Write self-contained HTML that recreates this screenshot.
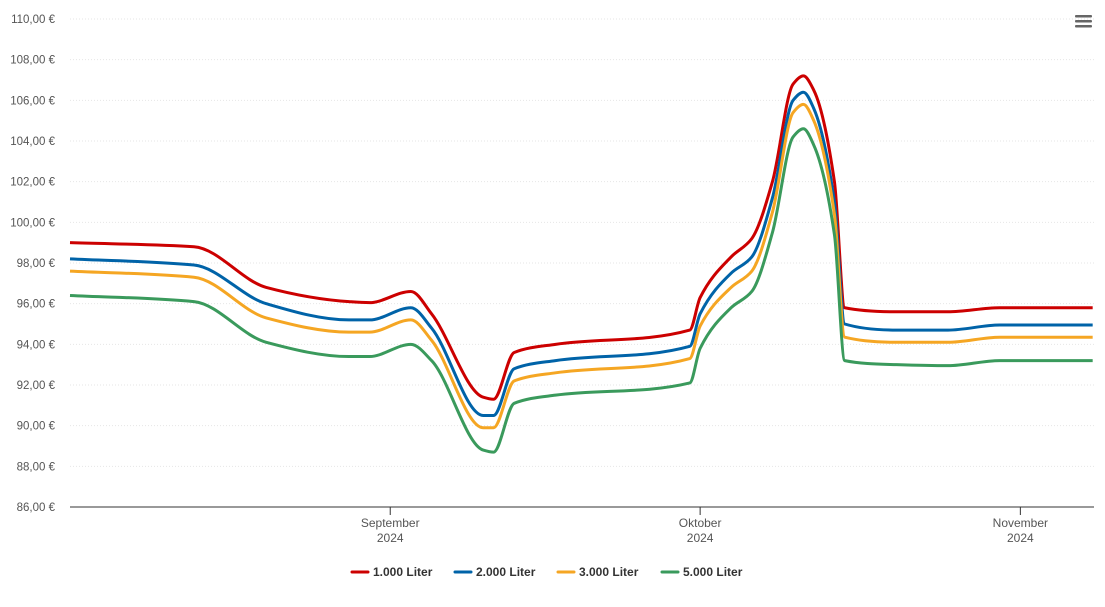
<!DOCTYPE html>
<html><head><meta charset="utf-8"><style>
body{margin:0;background:#fff;font-family:"Liberation Sans",sans-serif}
svg text{font-family:"Liberation Sans",sans-serif}
</style></head><body>
<svg id="chart" width="1105" height="602" xmlns="http://www.w3.org/2000/svg">
<g id="grid"></g>
<g id="yaxis"></g>
<g id="xaxis"></g>
<g id="series"></g>
<g id="legend"></g>
<g fill="#666">
<rect x="1075" y="15" width="17" height="2.5" rx="1"/><rect x="1075" y="20" width="17" height="2.5" rx="1"/><rect x="1075" y="25" width="17" height="2.5" rx="1"/>
</g>
</svg>
<script>
const days=[0,12,19,27,29,33,35,40,41,43,47,60,61,64,66,68,70,71,72,74,75,80,85,90,99];
const s1000=[99.0,98.8,96.8,96.1,96.05,96.6,95.5,91.4,91.3,93.6,94.0,94.7,96.3,98.3,99.2,102,106.8,107.2,106.5,102,95.8,95.6,95.6,95.8,95.8];
const s2000=[98.2,97.9,96.0,95.2,95.2,95.8,94.8,90.5,90.5,92.8,93.2,93.9,95.5,97.5,98.3,101.2,106.0,106.4,105.6,101,95.0,94.7,94.7,94.95,94.95];
const s3000=[97.6,97.3,95.3,94.6,94.6,95.2,94.2,89.9,89.9,92.2,92.6,93.3,94.9,96.8,97.6,100.5,105.4,105.8,105.0,100.4,94.35,94.1,94.1,94.35,94.35];
const s5000=[96.4,96.1,94.1,93.4,93.4,94.0,93.2,88.8,88.7,91.1,91.5,92.1,93.8,95.8,96.6,99.5,104.2,104.6,103.8,99.4,93.2,93.0,92.95,93.2,93.2];
const seriesNames=["1.000 Liter","2.000 Liter","3.000 Liter","5.000 Liter"];
const yTicks=[86,88,90,92,94,96,98,100,102,104,106,108,110];
const xTickDays=[31,61,92];
const xTickLabels=[["September","2024"],["Oktober","2024"],["November","2024"]];
const colors=["#cc0000","#0063a8","#f5a623","#3a9a5c"];
const NS="http://www.w3.org/2000/svg";
const X=d=>70+d*10.33, Y=v=>507-(v-86)*(488/24);
function el(t,a,p){const e=document.createElementNS(NS,t);for(const k in a)e.setAttribute(k,a[k]);p.appendChild(e);return e;}
const grid=document.getElementById('grid'),ya=document.getElementById('yaxis'),xa=document.getElementById('xaxis');
yTicks.forEach(v=>{
 const l=el('line',{x1:70,x2:1094,y1:Y(v),y2:Y(v),stroke:v==86?'#333':'#e6e6e6','stroke-width':1,'stroke-dasharray':v==86?'':'1,2'},grid);
 
 
 const t=el('text',{x:55,y:Y(v)+4,'text-anchor':'end','font-size':11.5,fill:'#555'},ya);
 t.textContent=v.toFixed(2).replace('.',',')+' €';
 
 
});
xTickDays.forEach((d,i)=>{
 el('line',{x1:X(d),x2:X(d),y1:507,y2:515,stroke:'#333'},xa);
 xTickLabels[i].forEach((s,j)=>{
  const t=el('text',{x:X(d),y:527+j*15,'text-anchor':'middle','font-size':12,fill:'#555'},xa);
  t.textContent=s;
  
  
 });
});
function monotone(xs,ys){
 const n=xs.length,dx=[],m=[],t=[];
 for(let i=0;i<n-1;i++){dx[i]=xs[i+1]-xs[i];m[i]=(ys[i+1]-ys[i])/dx[i];}
 t[0]=m[0];t[n-1]=m[n-2];
 for(let i=1;i<n-1;i++){t[i]=m[i-1]*m[i]<=0?0:3*(dx[i-1]+dx[i])/((2*dx[i]+dx[i-1])/m[i-1]+(dx[i]+2*dx[i-1])/m[i]);}
 let p='M'+xs[0]+','+ys[0];
 for(let i=0;i<n-1;i++){const h=dx[i]/3;p+=`C${xs[i]+h},${ys[i]+t[i]*h} ${xs[i+1]-h},${ys[i+1]-t[i+1]*h} ${xs[i+1]},${ys[i+1]}`;}
 return p;
}
const sg=document.getElementById('series');
[s1000,s2000,s3000,s5000].forEach((s,i)=>{
 const p=el('path',{d:monotone(days.map(X),s.map(Y)),fill:'none',stroke:colors[i],'stroke-width':3,'stroke-linejoin':'round'},sg);
 
 
});
const lg=document.getElementById('legend');
const lx=[352,455,558,662];
seriesNames.forEach((n,i)=>{
 const g=el('g',{},lg);
 
 
 el('line',{x1:lx[i],x2:lx[i]+16,y1:572,y2:572,stroke:colors[i],'stroke-width':3,'stroke-linecap':'round'},g);
 const t=el('text',{x:lx[i]+21,y:576,'font-size':12,'font-weight':'bold',fill:'#333'},g);
 t.textContent=n;
});
</script>
</body></html>
